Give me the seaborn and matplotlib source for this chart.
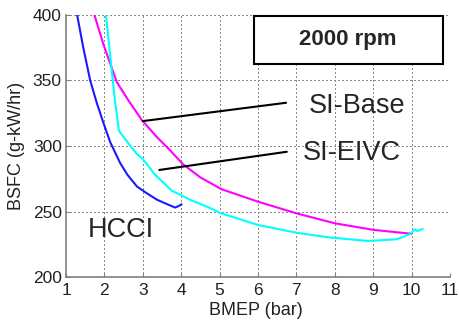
import numpy as np
import pandas as pd
import seaborn as sns
import matplotlib.pyplot as plt
from matplotlib.patches import Rectangle

# values
hcci_bmep = [1.29, 1.45, 1.63, 1.8, 1.97, 2.15, 2.41, 2.6, 2.85, 3.1, 3.37, 3.6, 3.84, 3.92, 4.01]
hcci_bsfc = [400, 375, 350, 333, 318, 303, 287, 278, 269, 264, 259, 256, 253, 254, 255.5]

base_bmep = [1.74, 1.97, 2.15, 2.32, 2.62, 2.97, 3.36, 3.7, 4.05, 4.5, 5.05, 6.0, 7.0, 8.0, 9.0, 10.0]
base_bsfc = [400, 378, 363, 349, 335, 320, 307, 297, 286, 276, 267, 257.5, 248.6, 241, 236, 233]

eivc_bmep = [2.04, 2.19, 2.28, 2.38, 2.6, 2.84, 3.0, 3.32, 3.75, 4.23, 4.75, 5.0, 6.0, 7.0, 7.83,
             8.87, 9.61, 9.96, 10.09, 10.15, 10.22, 10.29]
eivc_bsfc = [400, 358, 333, 311.5, 303, 294, 290, 278, 266, 259, 252.7, 249, 239.7, 233.8, 230.3,
             227.5, 228.8, 232.8, 236.4, 235, 236, 236.6]

x_ticks = [1, 2, 3, 4, 5, 6, 7, 8, 9, 10, 11]
y_ticks = [200, 250, 300, 350, 400]


def build_frame():
    parts = []
    for name, xs, ys in [("HCCI", hcci_bmep, hcci_bsfc),
                         ("SI-Base", base_bmep, base_bsfc),
                         ("SI-EIVC", eivc_bmep, eivc_bsfc)]:
        parts.append(pd.DataFrame({"BMEP": xs, "BSFC": ys, "Mode": name}))
    return pd.concat(parts, ignore_index=True)


def main():
    sns.set_style("white")
    plt.rcParams['font.family'] = ['Liberation Sans', 'DejaVu Sans']

    df = build_frame()
    fig = plt.figure(figsize=(4.6, 3.23), dpi=100)
    ax = fig.add_axes([0.1435, 0.1424, 0.8348, 0.8112])

    # dotted grid like the original (drawn by hand, under the curves)
    grid_kw = dict(color='#8a8a8a', linewidth=1.0, linestyle=(0, (1.2, 1.8)), zorder=1,
                   antialiased=False)
    for xv in x_ticks[1:]:
        ax.axvline(xv, **grid_kw)
    for yv in y_ticks[1:]:
        ax.axhline(yv, **grid_kw)

    sns.lineplot(data=df, x="BMEP", y="BSFC", hue="Mode", sort=False, estimator=None,
                 palette={"HCCI": "#1a1aff", "SI-Base": "#ff00ff", "SI-EIVC": "#00ffff"},
                 linewidth=1.5, legend=False, ax=ax, zorder=3)

    ax.set_xlim(1, 11)
    ax.set_ylim(200, 400)
    ax.set_xticks(x_ticks)
    ax.set_yticks(y_ticks)
    for side in ['top', 'right']:
        ax.spines[side].set_visible(False)
    for side in ['left', 'bottom']:
        ax.spines[side].set_color('#808080')
        ax.spines[side].set_linewidth(1.2)
    ax.tick_params(bottom=True, left=True, direction='in', length=3, color='#808080',
                   labelsize=12.5, labelcolor='#222222')
    ax.tick_params(axis='x', pad=4)
    ax.tick_params(axis='y', pad=3)

    ax.set_xlabel("BMEP (bar)", fontsize=13, color='#222222')
    ax.set_ylabel("BSFC (g-kW/hr)", fontsize=13, color='#222222')
    ax.xaxis.set_label_coords(0.495, -0.095)
    ax.yaxis.set_label_coords(-0.107, 0.5)

    # title box
    ax.add_patch(Rectangle((0.49, 0.813), 0.492, 0.184, transform=ax.transAxes,
                           facecolor='white', edgecolor='black', linewidth=1.5, clip_on=False, zorder=5))
    ax.text(0.734, 0.905, "2000 rpm", transform=ax.transAxes, ha='center', va='center',
            fontsize=16, fontweight='bold', zorder=6)

    # curve labels with leader lines
    ax.plot([3.0, 6.73], [319, 333], color='black', linewidth=1.5, zorder=4)
    ax.plot([3.43, 6.75], [281.7, 295.6], color='black', linewidth=1.5, zorder=4)
    ax.text(7.33, 325.2, "SI-Base", fontsize=19.5, va='baseline')
    ax.text(7.17, 289.3, "SI-EIVC", fontsize=19.5, va='baseline')
    ax.text(1.57, 230.5, "HCCI", fontsize=19.5, va='baseline')

    fig.savefig("out.png", dpi=100)


if __name__ == "__main__":
    main()
